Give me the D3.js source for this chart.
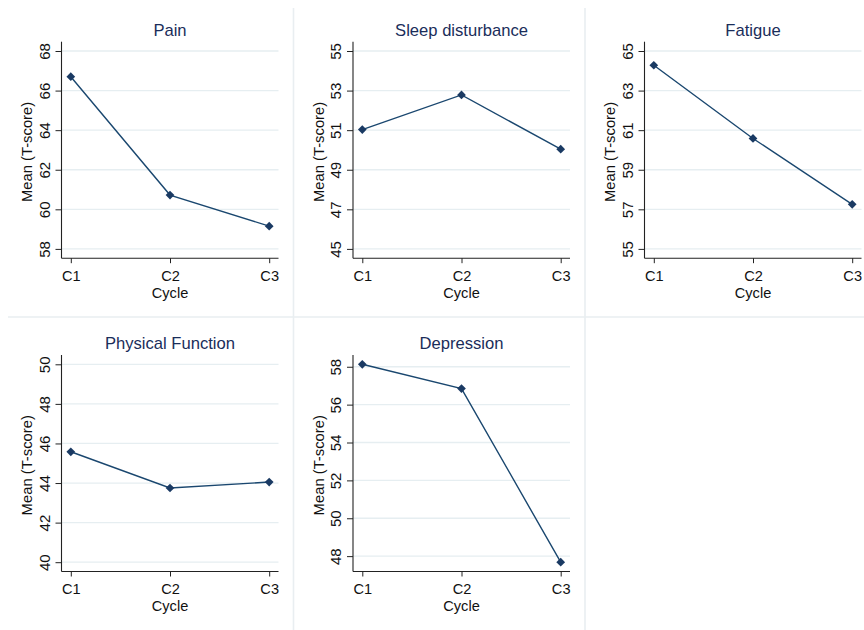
<!DOCTYPE html>
<html>
<head>
<meta charset="utf-8">
<script src="https://cdn.jsdelivr.net/npm/d3@7"></script>
<style>
  html, body { margin: 0; padding: 0; background: #fff; }
  svg { display: block; }
  text { font-family: "Liberation Sans", Arial, Helvetica, sans-serif; }
</style>
</head>
<body>
<svg id="chart" width="864" height="630"></svg>
<script>
// ---- data ----
const categories = ["C1", "C2", "C3"];
const panelTitles = ["Pain", "Sleep disturbance", "Fatigue", "Physical Function", "Depression"];
const painValues = [66.70, 60.72, 59.15];
const sleepValues = [51.03, 52.78, 50.04];
const fatigueValues = [64.28, 60.58, 57.25];
const physicalValues = [45.58, 43.75, 44.05];
const depressionValues = [58.13, 56.85, 47.68];
const painTicks = [58, 60, 62, 64, 66, 68];
const sleepTicks = [45, 47, 49, 51, 53, 55];
const fatigueTicks = [55, 57, 59, 61, 63, 65];
const physicalTicks = [40, 42, 44, 46, 48, 50];
const depressionTicks = [48, 50, 52, 54, 56, 58];
const xTitle = "Cycle";
const yTitle = "Mean (T-score)";

const panels = [
  { title: panelTitles[0], values: painValues, ticks: painTicks },
  { title: panelTitles[1], values: sleepValues, ticks: sleepTicks },
  { title: panelTitles[2], values: fatigueValues, ticks: fatigueTicks },
  { title: panelTitles[3], values: physicalValues, ticks: physicalTicks },
  { title: panelTitles[4], values: depressionValues, ticks: depressionTicks }
];

// ---- layout ----
const svg = d3.select("#chart");
svg.append("rect").attr("width", 864).attr("height", 630).attr("fill", "#fff");

const colX = [0, 291.5, 583];
const rowY = [0, 313.3];
const plotLeft = 61.5, plotTop = 41.7, plotW = 217, plotH = 216.5, pad = 9.3;
const navy = "#1a476f";
const gridColor = "#e6eef1";
const sepColor = "#e9eef1";

// separators
const sep = svg.append("g").attr("stroke", sepColor).attr("stroke-width", 1.6).attr("fill", "none");
sep.append("line").attr("x1", 293.5).attr("x2", 293.5).attr("y1", 8).attr("y2", 630);
sep.append("line").attr("x1", 585).attr("x2", 585).attr("y1", 8).attr("y2", 630);
sep.append("line").attr("x1", 8).attr("x2", 864).attr("y1", 317).attr("y2", 317);

panels.forEach((p, i) => {
  const col = i % 3, row = Math.floor(i / 3);
  const g = svg.append("g")
    .attr("transform", `translate(${colX[col] + plotLeft},${rowY[row] + plotTop})`);

  const x = d3.scalePoint().domain(categories).range([pad, plotW - pad]);
  const ext = d3.extent(p.values.concat(p.ticks));
  const y = d3.scaleLinear().domain(ext).range([plotH - pad, pad]);

  // gridlines
  g.append("g").selectAll("line").data(p.ticks).join("line")
    .attr("x1", 0).attr("x2", plotW)
    .attr("y1", d => y(d)).attr("y2", d => y(d))
    .attr("stroke", gridColor).attr("stroke-width", 1.3);

  // y axis
  const yAxis = g.append("g")
    .call(d3.axisLeft(y).tickValues(p.ticks).tickSize(6).tickSizeOuter(0).tickFormat(d3.format("d")));
  yAxis.select(".domain").attr("d", `M0,0V${plotH}`).attr("stroke", "#222").attr("stroke-width", 1.1);
  yAxis.selectAll(".tick line").attr("stroke", "#222").attr("stroke-width", 1);
  yAxis.selectAll(".tick text")
    .attr("x", null).attr("dy", null)
    .attr("transform", "translate(-11.7,0) rotate(-90)")
    .attr("text-anchor", "middle")
    .attr("font-size", 15).attr("fill", "#111");

  // x axis
  const xAxis = g.append("g").attr("transform", `translate(0,${plotH})`)
    .call(d3.axisBottom(x).tickSize(5).tickSizeOuter(0));
  xAxis.select(".domain").attr("d", `M0,0H${plotW}`).attr("stroke", "#222").attr("stroke-width", 1.1);
  xAxis.selectAll(".tick line").attr("stroke", "#222").attr("stroke-width", 1);
  xAxis.selectAll(".tick text")
    .attr("y", 22.6).attr("dy", null)
    .attr("font-size", 14.6).attr("fill", "#111");

  // axis titles
  g.append("text")
    .attr("x", plotW / 2).attr("y", plotH + 39.4)
    .attr("text-anchor", "middle").attr("font-size", 14.6).attr("fill", "#111")
    .text(xTitle);
  g.append("text")
    .attr("transform", `translate(-29.4,${plotH / 2 + 2}) rotate(-90)`)
    .attr("text-anchor", "middle").attr("font-size", 14.8).attr("fill", "#111")
    .text(yTitle);

  // panel title
  g.append("text")
    .attr("x", plotW / 2).attr("y", -5.7)
    .attr("text-anchor", "middle").attr("font-size", 16.6).attr("fill", "#1a2d5a")
    .text(p.title);

  // line
  const line = d3.line().x((d, j) => x(categories[j])).y(d => y(d));
  g.append("path").datum(p.values)
    .attr("d", line).attr("fill", "none")
    .attr("stroke", navy).attr("stroke-width", 1.4);

  // diamond markers
  g.append("g").selectAll("path").data(p.values).join("path")
    .attr("transform", (d, j) => `translate(${x(categories[j])},${y(d)}) rotate(45)`)
    .attr("d", d3.symbol().type(d3.symbolSquare).size(38))
    .attr("fill", "#1a3a63");
});
</script>
</body>
</html>
